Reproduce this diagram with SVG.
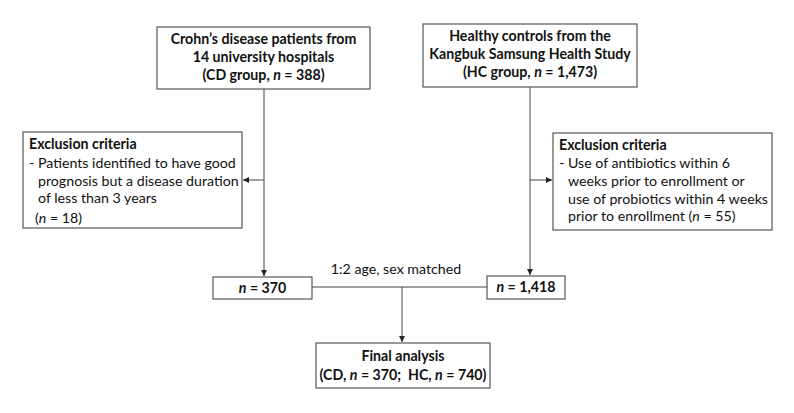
<svg xmlns="http://www.w3.org/2000/svg" width="794" height="413" viewBox="0 0 794 413">
<style>
.box{fill:#fff;stroke:#555;stroke-width:1.2}
text{font-family:Lato,"Liberation Sans",sans-serif;font-size:14.2px;fill:#111}
.b{font-weight:bold}
.c{text-anchor:middle}
.pre{white-space:pre}
.ln{stroke:#444;stroke-width:1;fill:none}
</style>
<defs>
<marker id="ah" viewBox="0 0 6 6" refX="6" refY="3" markerWidth="6" markerHeight="6" orient="auto" markerUnits="userSpaceOnUse">
<path d="M0,0 L6,3 L0,6 z" fill="#222"/>
</marker>
</defs>
<rect width="794" height="413" fill="#fff"/>
<g id="connectors">
<line class="ln" x1="264" y1="89" x2="264" y2="276" marker-end="url(#ah)"/>
<line class="ln" x1="264" y1="180" x2="243" y2="180" marker-end="url(#ah)"/>
<line class="ln" x1="530" y1="87" x2="530" y2="275" marker-end="url(#ah)"/>
<line class="ln" x1="530" y1="180" x2="552" y2="180" marker-end="url(#ah)"/>
<line class="ln" x1="312" y1="287" x2="487" y2="287"/>
<line class="ln" x1="402" y1="287" x2="402" y2="342" marker-end="url(#ah)"/>
<text x="396" y="274" class="c">1:2 age, sex matched</text>
</g>
<g id="cd">
<rect class="box" x="157" y="27" width="213" height="62"/>
<text class="b c" x="263.5" y="44">Crohn’s disease patients from</text>
<text class="b c" x="263.5" y="62">14 university hospitals</text>
<text class="b c" x="263.5" y="80">(CD group, <tspan font-style="italic">n</tspan> = 388)</text>
</g>
<g id="hc">
<rect class="box" x="423" y="24" width="214" height="63"/>
<text class="b c" x="530" y="41">Healthy controls from the</text>
<text class="b c" x="530" y="59">Kangbuk Samsung Health Study</text>
<text class="b c" x="530" y="77">(HC group, <tspan font-style="italic">n</tspan> = 1,473)</text>
</g>
<g id="excl-cd">
<rect class="box" x="23" y="132" width="219" height="96"/>
<text class="b" x="29" y="149">Exclusion criteria</text>
<text x="29" y="168">- Patients identified to have good</text>
<text x="38" y="186">prognosis but a disease duration</text>
<text x="38" y="203">of less than 3 years</text>
<text x="35" y="223">(<tspan font-style="italic">n</tspan> = 18)</text>
</g>
<g id="excl-hc">
<rect class="box" x="553" y="133" width="219" height="97"/>
<text class="b" x="559" y="150">Exclusion criteria</text>
<text x="559" y="168">- Use of antibiotics within 6</text>
<text x="568" y="186">weeks prior to enrollment or</text>
<text x="568" y="204">use of probiotics within 4 weeks</text>
<text x="568" y="221">prior to enrollment (<tspan font-style="italic">n</tspan> = 55)</text>
</g>
<g id="cd-n">
<rect class="box" x="213" y="277" width="99" height="22"/>
<text class="b c" x="262.5" y="293"><tspan font-style="italic">n</tspan> = 370</text>
</g>
<g id="hc-n">
<rect class="box" x="487" y="276" width="78" height="23"/>
<text class="b c" x="526" y="292"><tspan font-style="italic">n</tspan> = 1,418</text>
</g>
<g id="final">
<rect class="box" x="316" y="343" width="174" height="45"/>
<text class="b c" x="403" y="361">Final analysis</text>
<text class="b c pre" x="403" y="380">(CD, <tspan font-style="italic">n</tspan> = 370;  HC, <tspan font-style="italic">n</tspan> = 740)</text>
</g>
</svg>
